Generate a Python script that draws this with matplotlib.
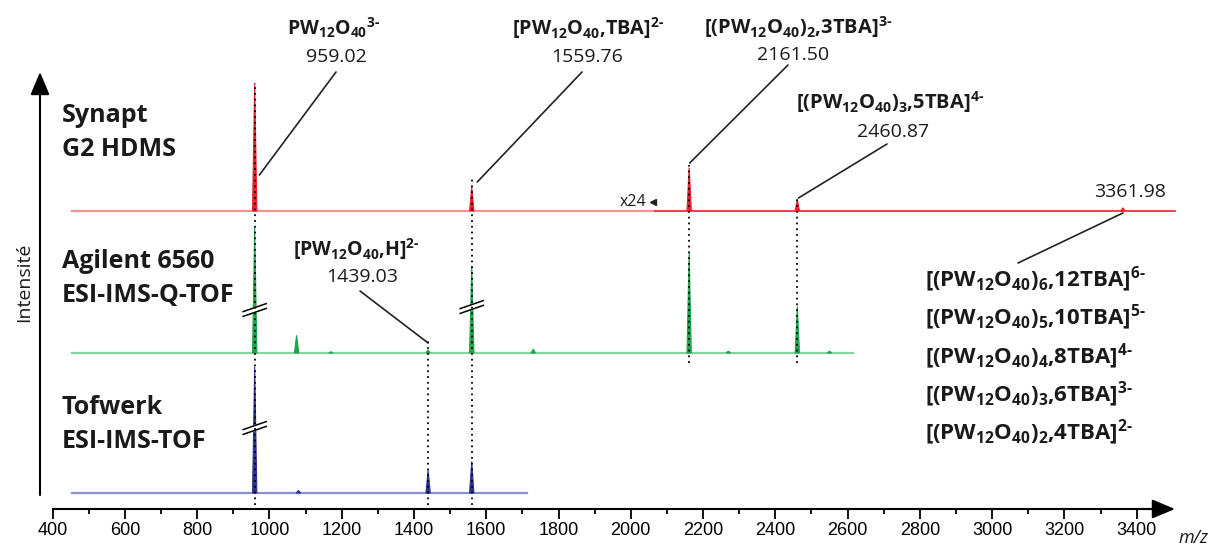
import numpy as np
import matplotlib
matplotlib.use("Agg")
import matplotlib.pyplot as plt

plt.rcParams['font.family'] = ['Open Sans', 'DejaVu Sans']
plt.rcParams['mathtext.fontset'] = 'custom'
plt.rcParams['mathtext.rm'] = 'Open Sans:bold'
plt.rcParams['mathtext.bf'] = 'Open Sans:bold'
plt.rcParams['mathtext.it'] = 'Open Sans:italic'

# peaks (m/z, relative height in %)
synapt_mz = [959.02, 1559.76, 2161.50, 2460.87, 3361.98]
synapt_int = [100, 19, 34, 9, 2.5]
agilent_mz = [959.02, 1075, 1170, 1439.03, 1559.76, 1730, 2161.50, 2270, 2460.87, 2550]
agilent_int = [100, 14, 1, 2.5, 69, 3, 80, 1.5, 37, 1.5]
tofwerk_mz = [959.02, 1080, 1439.03, 1559.76]
tofwerk_int = [100, 2, 18, 25]

labelled_mz = [959.02, 1439.03, 1559.76, 2161.50, 2460.87, 3361.98]
stack_labels = [r'$\mathbf{[(PW_{12}O_{40})_{6}{,}12TBA]^{6\text{-}}}$',
                r'$\mathbf{[(PW_{12}O_{40})_{5}{,}10TBA]^{5\text{-}}}$',
                r'$\mathbf{[(PW_{12}O_{40})_{4}{,}8TBA]^{4\text{-}}}$',
                r'$\mathbf{[(PW_{12}O_{40})_{3}{,}6TBA]^{3\text{-}}}$',
                r'$\mathbf{[(PW_{12}O_{40})_{2}{,}4TBA]^{2\text{-}}}$']

H = 549
fig = plt.figure(figsize=(12.15, 5.49), dpi=100)
ax = fig.add_axes([0, 0, 1, 1])
ax.set_xlim(254.1, 3616.9)
ax.set_ylim(0, H)
ax.patch.set_alpha(0)


def draw(mz, inten, start, stop, base, scale, dark, light, split=None, w=6):
    if split is None:
        ax.plot([start, stop], [base, base], color=light, lw=1.6, zorder=1)
    else:
        ax.plot([start, split], [base, base], color=light, lw=1.6, zorder=1)
        ax.plot([split, stop], [base, base], color=dark, lw=1.2, zorder=1)
    for m, h in zip(mz, inten):
        xs = [m - w, m, m + w]
        ys = [base, base + h * scale / 100, base]
        ax.fill(xs, ys, color=dark, lw=0.8, ec=dark, zorder=2)


draw(synapt_mz, synapt_int, 453, 3506, 338, 128, '#e8202a', '#f39393', split=2067)
draw(agilent_mz, agilent_int, 453, 2615, 196, 126, '#1fa34c', '#86d3a0')
draw(tofwerk_mz, tofwerk_int, 453, 1713, 56, 126, '#2e3192', '#8a90cc')


def brk(m, y):
    dx, dy, g = 32, 4, 2.4
    ax.fill([m - dx, m + dx, m + dx, m - dx],
            [y - dy - g, y + dy - g, y + dy + g, y - dy + g], color='white', zorder=4)
    for s in (-g, g):
        ax.plot([m - dx, m + dx], [y - dy + s, y + dy + s], color='k', lw=1.1, zorder=5)


brk(959.02, 239)
brk(1559.76, 242)
brk(959.02, 121)

# dotted guide lines
ax.vlines(labelled_mz[:5], [44, 44, 44, 186, 186], [466, 209, 372, 384, 351],
          colors='k', linestyles=(0, (1, 2.2)), lw=1.3, zorder=6)

# leader lines
lines = [((972, 374), (336, 72)), ((1575, 367), (582, 72)),
         ((1439.03, 206), (360, 291)), ((2163, 386), (788, 65)),
         ((2464, 351), (887, 144)), ((3362, 336), (1018, 263))]
for xy, t in lines:
    ax.annotate('', xy=xy, xytext=(t[0], H - t[1]), textcoords='figure pixels',
                arrowprops=dict(arrowstyle='-', lw=1.2, color='#222222',
                                shrinkA=0, shrinkB=0))


def txt(s, x, y, size=14, **kw):
    ax.annotate(s, xy=(x, H - y), xycoords='figure pixels', fontsize=size,
                color='#1a1a1a', **kw)


c = dict(ha='center', va='center')
txt(r'$\mathbf{PW_{12}O_{40}}^{\mathbf{3}\text{-}}$', 334, 28, size=14, **c)
txt('959.02', 336, 57, **c)
txt(r'$\mathbf{[PW_{12}O_{40}{,}TBA]^{2\text{-}}}$', 588, 28, size=14.3, **c)
txt('1559.76', 587, 57, **c)
txt(r'$\mathbf{[(PW_{12}O_{40})_{2}{,}3TBA]^{3\text{-}}}$', 798, 27, size=14.5, **c)
txt('2161.50', 793, 55, **c)
txt(r'$\mathbf{[(PW_{12}O_{40})_{3}{,}5TBA]^{4\text{-}}}$', 890, 102, size=14.5, **c)
txt('2460.87', 893, 132, **c)
txt(r'$\mathbf{[PW_{12}O_{40}{,}H]^{2\text{-}}}$', 356, 249, **c)
txt('1439.03', 362, 277, **c)
txt('3361.98', 1130, 192, **c)
for i, s in enumerate(stack_labels):
    txt(s, 925, 280 + i * 38.3, size=16, ha='left', va='center')

for s, y in [('Synapt', 115), ('G2 HDMS', 150), ('Agilent 6560', 262),
             ('ESI-IMS-Q-TOF', 296), ('Tofwerk', 407), ('ESI-IMS-TOF', 442)]:
    txt(s, 62, y, size=18, ha='left', va='center', fontweight='bold')

txt('x24', 633, 202, size=11.5, ha='center', va='center')
ax.plot([2062], [H - 202], marker='<', ms=5, color='#222222', ls='none')

txt('Intensité', 24, 282, size=14, ha='center', va='center', rotation=90)
txt('m/z', 1178, 538, size=13, ha='left', va='center', style='italic')

# axes
ax.annotate('', xy=(40, H - 72), xytext=(40, H - 495), xycoords='figure pixels',
            arrowprops=dict(arrowstyle='-|>,head_length=1.0,head_width=0.42',
                            mutation_scale=14, lw=1.5, color='k', shrinkA=0, shrinkB=0))
ax.annotate('', xy=(3506, 40), xytext=(3400, 40),
            arrowprops=dict(arrowstyle='-|>,head_length=1.0,head_width=0.42',
                            mutation_scale=14, lw=1.5, color='k', shrinkA=0, shrinkB=0))

for s in ('top', 'right', 'left'):
    ax.spines[s].set_visible(False)
ax.spines['bottom'].set_position(('data', 40))
ax.spines['bottom'].set_bounds(400, 3480)
ax.spines['bottom'].set_linewidth(1.5)
ax.set_xticks(range(400, 3401, 200))
ax.set_xticks(range(500, 3400, 200), minor=True)
ax.set_yticks([])
ax.tick_params(axis='x', which='major', direction='out', length=7.5, width=1.3, pad=2,
               labelsize=13)
ax.tick_params(axis='x', which='minor', direction='out', length=3.8, width=1.3)
for lab in ax.get_xticklabels():
    lab.set_family(['Liberation Sans', 'DejaVu Sans'])

fig.savefig('out.png', dpi=100, facecolor='white')
